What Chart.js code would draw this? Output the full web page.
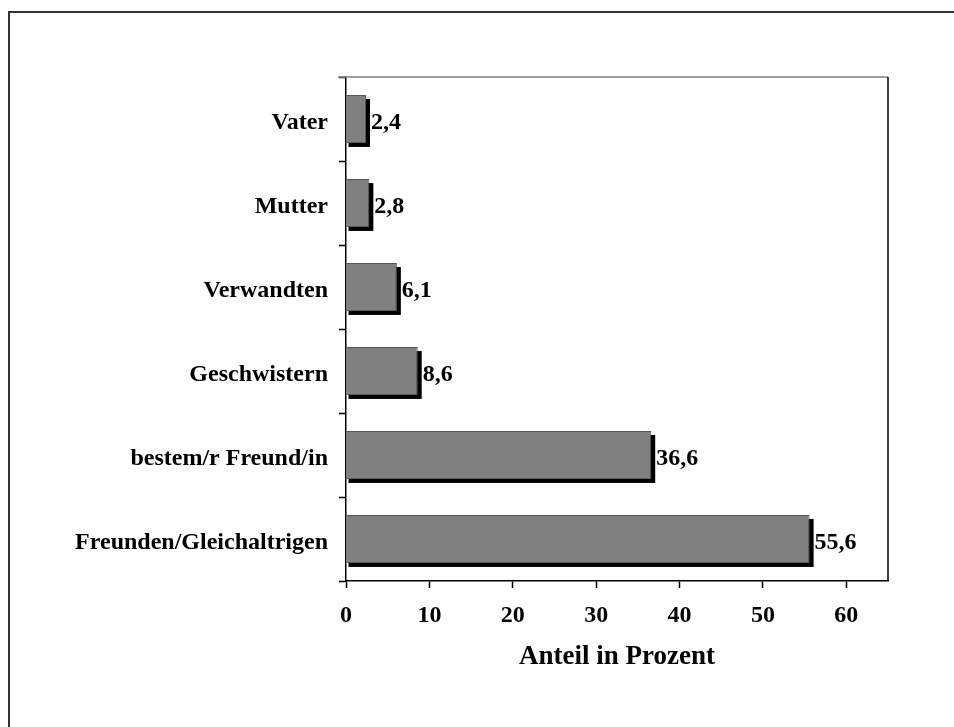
<!DOCTYPE html>
<html>
<head>
<meta charset="utf-8">
<script src="https://cdn.jsdelivr.net/npm/chart.js@4/dist/chart.umd.min.js"></script>
<style>
  html, body { margin: 0; padding: 0; background: #ffffff; }
  #wrap { width: 954px; height: 727px; position: relative; }
</style>
</head>
<body>
<div id="wrap"><canvas id="c" width="954" height="727"></canvas></div>
<script>
const categories = ["Vater", "Mutter", "Verwandten", "Geschwistern", "bestem/r Freund/in", "Freunden/Gleichaltrigen"];
const values = [2.4, 2.8, 6.1, 8.6, 36.6, 55.6];
const valueLabels = ["2,4", "2,8", "6,1", "8,6", "36,6", "55,6"];
const xTicks = [0, 10, 20, 30, 40, 50, 60];
const xMax = 65;
const axisTitle = "Anteil in Prozent";

const FONT = '"Liberation Serif", "Times New Roman", serif';

const decor = {
  id: 'decor',
  beforeDatasetsDraw(chart) {
    const ctx = chart.ctx;
    const meta = chart.getDatasetMeta(0);
    ctx.save();
    ctx.fillStyle = '#000000';
    meta.data.forEach((bar) => {
      const left = Math.min(bar.base, bar.x);
      const w = Math.abs(bar.x - bar.base);
      const top = bar.y - bar.height / 2;
      ctx.fillRect(left + 2, top + 4, w + 2, bar.height);
    });
    ctx.restore();
  },
  afterDatasetsDraw(chart) {
    const ctx = chart.ctx;
    const meta = chart.getDatasetMeta(0);
    ctx.save();
    ctx.fillStyle = '#000';
    ctx.font = 'bold 24px ' + FONT;
    ctx.textAlign = 'left';
    ctx.textBaseline = 'middle';
    meta.data.forEach((bar, i) => {
      ctx.fillText(valueLabels[i], bar.x + 5, bar.y + 4);
    });
    ctx.restore();
  },
  afterDraw(chart) {
    const ctx = chart.ctx;
    const a = chart.chartArea;
    ctx.save();
    ctx.lineWidth = 1.5;
    ctx.strokeStyle = '#808080';
    ctx.beginPath();
    ctx.moveTo(a.left - 8, a.top);
    ctx.lineTo(a.right, a.top);
    ctx.stroke();
    ctx.strokeStyle = '#000';
    ctx.beginPath();
    ctx.moveTo(a.right, a.top);
    ctx.lineTo(a.right, a.bottom);
    ctx.stroke();
    ctx.lineWidth = 2;
    ctx.strokeStyle = '#333';
    ctx.beginPath();
    ctx.moveTo(9, 727);
    ctx.lineTo(9, 12);
    ctx.lineTo(954, 12);
    ctx.stroke();
    ctx.restore();
  }
};

new Chart(document.getElementById('c'), {
  type: 'bar',
  data: {
    labels: categories,
    datasets: [{
      data: values,
      backgroundColor: '#808080',
      borderColor: '#5a5a5a',
      borderWidth: 1,
      barPercentage: 0.57,
      categoryPercentage: 1.0
    }]
  },
  options: {
    indexAxis: 'y',
    responsive: false,
    animation: false,
    devicePixelRatio: 1,
    layout: { padding: { top: 77, right: 66, left: 0, bottom: 0 } },
    plugins: {
      legend: { display: false },
      tooltip: { enabled: false }
    },
    scales: {
      x: {
        min: 0,
        max: xMax,
        afterFit(s) { s.height = 146; },
        afterBuildTicks(s) { s.ticks = xTicks.map(v => ({ value: v })); },
        grid: {
          drawOnChartArea: false,
          drawTicks: true,
          tickLength: 7,
          tickColor: '#000',
          tickWidth: 1.5
        },
        border: { display: true, color: '#000', width: 1.5 },
        ticks: {
          color: '#000',
          padding: 13,
          font: { family: FONT, size: 24, weight: 'bold' }
        },
        title: {
          display: true,
          text: axisTitle,
          color: '#000',
          font: { family: FONT, size: 27, weight: 'bold' },
          padding: { top: 0, bottom: 54 }
        }
      },
      y: {
        afterFit(s) { s.width = 346; },
        grid: {
          offset: true,
          drawOnChartArea: false,
          drawTicks: true,
          tickLength: 7,
          tickColor: '#000',
          tickWidth: 1.5
        },
        border: { display: true, color: '#000', width: 1.5 },
        ticks: {
          color: '#000',
          padding: 11,
          labelOffset: 4,
          font: { family: FONT, size: 24, weight: 'bold' }
        }
      }
    }
  },
  plugins: [decor]
});
</script>
</body>
</html>
